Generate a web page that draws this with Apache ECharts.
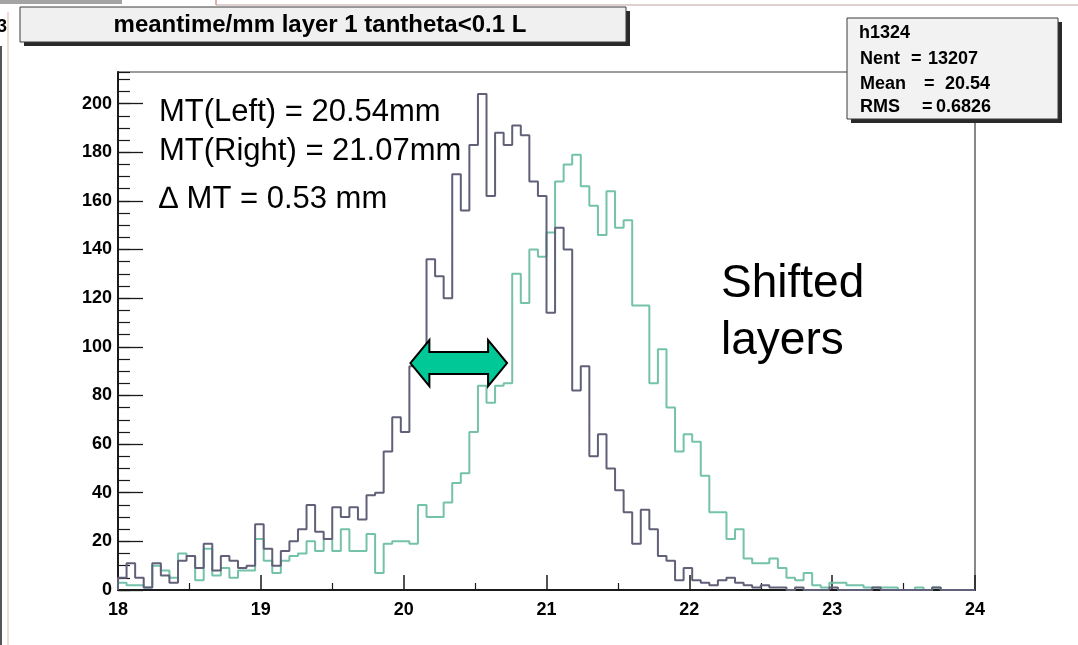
<!DOCTYPE html>
<html>
<head>
<meta charset="utf-8">
<script src="https://cdn.jsdelivr.net/npm/echarts@6/dist/echarts.min.js"></script>
<style>
  html, body { margin: 0; padding: 0; background: #ffffff; }
  #chart { width: 1078px; height: 645px; }
</style>
</head>
<body>
<div id="chart"></div>
<script>
// Histogram binning: 100 bins of 0.06 mm from 18 to 24
const binLow = 18;
const binWidth = 0.06;

// Mean-time counts per bin, left layers (h1324)
const leftLayer = [
  5, 11, 5, 1, 11, 6, 3, 12, 14, 9,
  19, 8, 14, 12, 9, 10, 27, 17, 10, 16,
  20, 25, 35, 24, 21, 34, 30, 34, 29, 39,
  40, 57, 71, 65, 92, 96, 136, 129, 120, 171,
  156, 183, 204, 162, 188, 183, 191, 187, 168, 162,
  114, 149, 140, 82, 92, 55, 64, 50, 41, 32,
  19, 33, 25, 14, 12, 4, 9, 4, 3, 2,
  4, 5, 3, 2, 1, 2, 1, 1, 0, 1,
  0, 0, 0, 1, 0, 0, 0, 0, 1, 0,
  0, 0, 0, 0, 0, 1, 0, 0, 0, 0
];

// Mean-time counts per bin, right (shifted) layers
const rightLayer = [
  3, 2, 2, 1, 10, 8, 5, 15, 14, 4,
  17, 6, 9, 5, 8, 8, 21, 12, 7, 12,
  14, 15, 20, 16, 21, 16, 25, 16, 16, 23,
  7, 19, 20, 20, 19, 35, 30, 30, 36, 44,
  48, 65, 84, 77, 84, 85, 130, 118, 140, 137,
  147, 168, 175, 179, 166, 158, 146, 164, 149, 152,
  117, 117, 85, 99, 75, 57, 64, 61, 47, 32,
  32, 21, 25, 13, 11, 11, 13, 9, 5, 4,
  7, 2, 1, 3, 3, 2, 2, 1, 1, 1,
  1, 0, 0, 1, 0, 1, 0, 0, 0, 0
];

// Axis ranges and ticks
const xMin = 18, xMax = 24, xStep = 1;
const yMax = 213, yMajor = 20, yMinor = 5;

// Texts
const titleText = 'meantime/mm layer 1 tantheta<0.1 L';
const statsName = 'h1324';
const statsRows = [
  ['Nent', '=', '13207'],
  ['Mean', '=', '20.54'],
  ['RMS', '=', '0.6826']
];
const noteLines = ['MT(Left) = 20.54mm', 'MT(Right) = 21.07mm', '\u2206 MT = 0.53 mm'];
const shiftNote = ['Shifted', 'layers'];

// Arrow between the two rising edges (x in mm, y in counts)
const arrowFrom = 20.047, arrowTo = 20.724, arrowLevel = 93.3;

const darkColor = '#606079';
const tealColor = '#74c2aa';

// Outline of a histogram: one point per bin edge, drawn as steps
function histOutline(counts) {
  const pts = [[binLow, 0]];
  counts.forEach((v, i) => pts.push([+(binLow + i * binWidth).toFixed(2), v]));
  pts.push([+(binLow + counts.length * binWidth).toFixed(2), 0]);
  return pts;
}

const axisFont = { fontFamily: 'Liberation Sans, Arial, sans-serif', fontWeight: 'bold', fontSize: 18, color: '#000' };

const chart = echarts.init(document.getElementById('chart'), null, { renderer: 'canvas' });

const option = {
  animation: false,
  backgroundColor: '#ffffff',
  grid: {
    left: 118, right: 103, top: 72, bottom: 55,
    show: true, borderColor: '#3a3a3a', borderWidth: 1.2, backgroundColor: 'transparent'
  },
  xAxis: {
    type: 'value', min: xMin, max: xMax, interval: xStep,
    axisLine: { lineStyle: { color: '#1a1a1a', width: 2 } },
    axisTick: { inside: true, length: 15, lineStyle: { color: '#1a1a1a', width: 1.5 } },
    minorTick: { show: true, splitNumber: 2, length: 7, lineStyle: { color: '#1a1a1a', width: 1.2 } },
    axisLabel: Object.assign({ margin: 11 }, axisFont),
    splitLine: { show: false }
  },
  yAxis: [
    {
      type: 'value', min: 0, max: yMax, interval: yMajor,
      axisLine: { show: true, lineStyle: { color: '#1a1a1a', width: 2 } },
      axisTick: { inside: true, length: 25, lineStyle: { color: '#1a1a1a', width: 1.3 } },
      axisLabel: Object.assign({ margin: 6, showMaxLabel: false }, axisFont),
      splitLine: { show: false }
    },
    {
      type: 'value', min: 0, max: yMax, interval: yMinor, position: 'left',
      axisLine: { show: false },
      axisTick: { inside: true, length: 12, lineStyle: { color: '#1a1a1a', width: 1.2 } },
      axisLabel: { show: false },
      splitLine: { show: false }
    }
  ],
  series: [
    {
      name: 'right', type: 'line', step: 'end', yAxisIndex: 0,
      data: histOutline(rightLayer), showSymbol: false, symbol: 'none',
      lineStyle: { color: tealColor, width: 2 }, z: 3
    },
    {
      name: 'left', type: 'line', step: 'end', yAxisIndex: 0,
      data: histOutline(leftLayer), showSymbol: false, symbol: 'none',
      lineStyle: { color: darkColor, width: 2 }, z: 4
    }
  ]
};

chart.setOption(option);

// Pixel positions of the arrow tips from the axes
const lx = chart.convertToPixel({ xAxisIndex: 0 }, arrowFrom);
const rx = chart.convertToPixel({ xAxisIndex: 0 }, arrowTo);
const ay = chart.convertToPixel({ yAxisIndex: 0 }, arrowLevel);
const headLen = 19, headHalf = 23, shaftHalf = 11;
const arrowPts = [
  [lx, ay], [lx + headLen, ay - headHalf], [lx + headLen, ay - shaftHalf],
  [rx - headLen, ay - shaftHalf], [rx - headLen, ay - headHalf], [rx, ay],
  [rx - headLen, ay + headHalf], [rx - headLen, ay + shaftHalf],
  [lx + headLen, ay + shaftHalf], [lx + headLen, ay + headHalf]
];

const noteFont = 'Liberation Sans, Arial, sans-serif';
const boxFont = 'Liberation Sans, Arial, sans-serif';

const graphics = [
  // page edges around the canvas
  { type: 'rect', shape: { x: 0, y: 0, width: 122, height: 4 }, style: { fill: '#a4a4a4' }, z: 1 },
  { type: 'line', shape: { x1: 216, y1: 5, x2: 1078, y2: 5 }, style: { stroke: '#d6c2c2', lineWidth: 1.5 }, z: 1 },
  { type: 'line', shape: { x1: 216, y1: 0, x2: 216, y2: 5 }, style: { stroke: '#d69a9a', lineWidth: 1.5 }, z: 1 },
  { type: 'line', shape: { x1: 8, y1: 12, x2: 8, y2: 645 }, style: { stroke: '#e2b4b4', lineWidth: 1 }, z: 1 },
  { type: 'line', shape: { x1: 1, y1: 46, x2: 1, y2: 645 }, style: { stroke: '#555', lineWidth: 2 }, z: 1 },
  { type: 'text', left: -3, top: 18, style: { text: '3', font: 'bold 18px ' + boxFont, fill: '#000' }, z: 1 },

  // title box with drop shadow
  { type: 'rect', shape: { x: 24, y: 11, width: 606, height: 35 }, style: { fill: '#2a2a2a' }, z: 10 },
  { type: 'rect', shape: { x: 20, y: 7, width: 606, height: 35 }, style: { fill: '#f0f0f0', stroke: '#3a3a3a', lineWidth: 1 }, z: 11 },
  { type: 'text', x: 320, y: 25, style: { text: titleText, font: 'bold 24px ' + boxFont, fill: '#000', textAlign: 'center', textVerticalAlign: 'middle' }, z: 12 },

  // statistics box with drop shadow
  { type: 'rect', shape: { x: 851, y: 22, width: 211, height: 101 }, style: { fill: '#2a2a2a' }, z: 10 },
  { type: 'rect', shape: { x: 847, y: 18, width: 211, height: 101 }, style: { fill: '#f2f2f2', stroke: '#3a3a3a', lineWidth: 1 }, z: 11 },
  { type: 'text', x: 859, y: 33, style: { text: statsName, font: 'bold 18px ' + boxFont, fill: '#000', textVerticalAlign: 'middle' }, z: 12 },

  // annotations
  { type: 'polygon', shape: { points: arrowPts }, style: { fill: '#00c896', stroke: '#000', lineWidth: 2, lineJoin: 'miter' }, z: 20 },
  { type: 'text', x: 159, y: 112, style: { text: noteLines[0], font: '31px ' + noteFont, fill: '#000', textVerticalAlign: 'middle' }, z: 15 },
  { type: 'text', x: 159, y: 151, style: { text: noteLines[1], font: '31px ' + noteFont, fill: '#000', textVerticalAlign: 'middle' }, z: 15 },
  { type: 'text', x: 159, y: 199, style: { text: noteLines[2], font: '31px ' + noteFont, fill: '#000', textVerticalAlign: 'middle' }, z: 15 },
  { type: 'text', x: 721, y: 284, style: { text: shiftNote[0], font: '46px ' + noteFont, fill: '#000', textVerticalAlign: 'middle' }, z: 15 },
  { type: 'text', x: 721, y: 341, style: { text: shiftNote[1], font: '46px ' + noteFont, fill: '#000', textVerticalAlign: 'middle' }, z: 15 }
];

// rows of the statistics box: name, equals sign, value
const statsCols = [[860, 911, 928], [860, 924, 945], [860, 922, 936]];
const statsY = [59, 84, 107];
statsRows.forEach((row, i) => {
  row.forEach((txt, j) => {
    graphics.push({
      type: 'text', x: statsCols[i][j], y: statsY[i],
      style: { text: txt, font: 'bold 18px ' + boxFont, fill: '#000', textVerticalAlign: 'middle' }, z: 12
    });
  });
});

chart.setOption({ graphic: graphics });
</script>
</body>
</html>
